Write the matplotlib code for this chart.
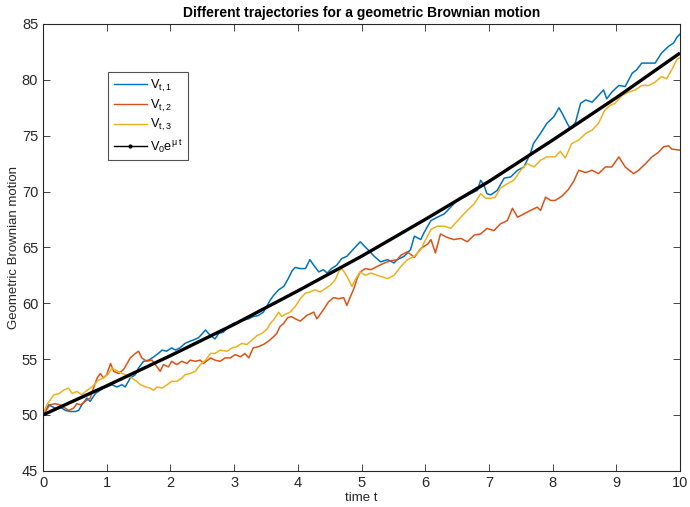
import matplotlib
matplotlib.use("Agg")
import matplotlib.pyplot as plt
from matplotlib.lines import Line2D

plt.rcParams['font.family'] = ['Liberation Sans', 'DejaVu Sans']
plt.rcParams['mathtext.fontset'] = 'custom'
plt.rcParams['mathtext.rm'] = 'Liberation Sans'
plt.rcParams['mathtext.it'] = 'Liberation Sans:italic'

# --- data ---
t1 = [0.0, 0.09, 0.19, 0.27, 0.35, 0.43, 0.51, 0.56, 0.61, 0.69, 0.74, 0.82, 0.87, 0.95, 1.0, 1.08, 1.16,
      1.24, 1.29, 1.37, 1.45, 1.5, 1.58, 1.66, 1.74, 1.81, 1.87, 1.94, 2.02, 2.08, 2.15, 2.23, 2.31, 2.36,
      2.44, 2.49, 2.55, 2.63, 2.7, 2.76, 2.83, 2.91, 2.99, 3.07, 3.15, 3.23, 3.3, 3.38, 3.46, 3.51, 3.57,
      3.62, 3.7, 3.78, 3.85, 3.91, 3.96, 4.04, 4.12, 4.19, 4.25, 4.33, 4.4, 4.46, 4.53, 4.61, 4.69, 4.77,
      4.85, 4.93, 4.98, 5.03,
      5.1, 5.2, 5.3, 5.41, 5.51, 5.56, 5.67, 5.77, 5.83, 5.93, 5.98,
      6.09, 6.19, 6.3, 6.4, 6.5, 6.61, 6.71, 6.82, 6.87, 6.92, 6.97, 7.03, 7.13, 7.24, 7.34, 7.45, 7.55,
      7.65, 7.7, 7.81, 7.91, 8.02, 8.1, 8.15, 8.23, 8.28, 8.36, 8.44, 8.52, 8.62, 8.72, 8.8, 8.85, 8.93,
      9.04, 9.14, 9.25, 9.32, 9.4, 9.5, 9.61, 9.71, 9.82, 9.9, 9.95, 10.0]
v1 = [50.0, 50.9, 50.6, 50.7, 50.4, 50.3, 50.3, 50.4, 50.9, 51.5, 51.2, 51.9, 52.1, 52.4, 52.5, 52.7, 52.5,
      52.7, 52.5, 53.3, 53.6, 54.2, 54.8, 54.9, 55.2, 55.5, 55.8, 55.7, 56.0, 55.8, 56.0, 56.4, 56.6, 56.7,
      56.9, 57.2, 57.6, 57.1, 56.8, 57.3, 57.4, 57.9, 58.2, 58.3, 58.5, 58.6, 58.8, 58.9, 59.2, 59.7, 60.3,
      60.7, 61.2, 61.5, 62.2, 62.9, 63.2, 63.1, 63.1, 63.9, 63.4, 62.8, 63.0, 62.7, 63.1, 63.4, 64.0, 64.2,
      64.7, 65.2, 65.5, 65.2,
      64.8, 64.2, 63.7, 63.9, 63.6, 63.9, 64.2, 64.8, 66.0, 65.7, 66.3,
      67.4, 67.7, 68.0, 68.6, 69.2, 69.5, 69.8, 70.1, 71.0, 70.6, 69.8, 69.7, 70.1, 71.2, 71.3, 71.9, 72.2,
      73.4, 74.3, 75.2, 76.1, 76.7, 77.5, 77.0, 76.1, 75.6, 76.2, 77.9, 78.2, 78.0, 78.6, 79.1, 78.3, 78.9,
      79.5, 79.4, 80.6, 80.9, 81.5, 81.5, 81.5, 82.4, 83.0, 83.3, 83.8, 84.1]

t2 = [0.0, 0.11, 0.19, 0.27, 0.35, 0.4, 0.48, 0.53, 0.59, 0.66, 0.74, 0.8, 0.85, 0.9, 0.95, 1.0, 1.06,
      1.11, 1.19, 1.27, 1.37, 1.45, 1.5, 1.55, 1.63, 1.71, 1.79, 1.84, 1.89, 1.97, 2.02, 2.1, 2.18, 2.26,
      2.31, 2.39, 2.47, 2.52, 2.63, 2.7, 2.78, 2.86, 2.94, 3.02, 3.1, 3.17, 3.23, 3.3, 3.38, 3.46, 3.54,
      3.62, 3.67, 3.72, 3.78, 3.84, 3.9, 3.96, 4.04, 4.14, 4.25, 4.3, 4.4, 4.48, 4.56, 4.64, 4.72, 4.77,
      4.82, 4.88, 4.93, 4.98, 5.06,
      5.15, 5.25, 5.36, 5.46, 5.56, 5.62, 5.72, 5.83, 5.93, 6.04, 6.09, 6.16, 6.24, 6.34, 6.45, 6.56,
      6.66, 6.77, 6.87, 6.97, 7.08, 7.18, 7.29, 7.37, 7.45, 7.55, 7.65, 7.76, 7.81, 7.89, 7.97, 8.04,
      8.15, 8.25, 8.33, 8.41, 8.52, 8.62, 8.72, 8.83, 8.93, 9.04, 9.14, 9.27, 9.35, 9.46, 9.56, 9.66,
      9.74, 9.82, 9.87, 10.0]
v2 = [50.0, 50.9, 51.0, 50.9, 50.6, 50.4, 50.6, 51.0, 50.9, 51.2, 51.5, 52.5, 53.3, 53.7, 53.3, 53.6, 54.6,
      53.9, 53.7, 54.1, 55.1, 55.5, 55.7, 55.1, 54.8, 54.9, 54.3, 53.9, 54.5, 54.3, 54.8, 54.5, 54.8, 54.6,
      54.9, 54.8, 54.9, 54.6, 55.1, 54.9, 54.8, 55.1, 55.1, 55.4, 55.2, 55.5, 55.1, 56.0, 56.1, 56.3, 56.6,
      57.0, 57.3, 57.9, 58.2, 58.7, 58.8, 58.6, 58.4, 58.9, 59.2, 58.6, 59.4, 60.1, 60.5, 60.4, 60.5, 59.8,
      60.5, 61.3, 62.2, 62.8, 63.1,
      63.0, 63.3, 63.6, 63.8, 63.9, 64.3, 64.6, 64.1, 64.9, 65.3, 65.7, 64.5, 66.2, 65.9, 65.7, 65.8,
      65.5, 66.1, 66.2, 66.7, 66.5, 67.1, 67.4, 68.5, 67.7, 68.0, 68.3, 68.6, 68.3, 69.5, 69.2, 69.2,
      69.6, 70.2, 70.9, 71.9, 71.7, 71.9, 71.6, 72.2, 72.2, 73.1, 72.2, 71.6, 71.9, 72.5, 73.1, 73.5,
      74.0, 74.1, 73.8, 73.7]

t3 = [0.0, 0.06, 0.17, 0.25, 0.32, 0.4, 0.46, 0.53, 0.61, 0.69, 0.77, 0.82, 0.87, 0.95, 1.03, 1.08, 1.14,
      1.21, 1.29, 1.4, 1.47, 1.53, 1.61, 1.68, 1.74, 1.79, 1.87, 1.95, 2.02, 2.1, 2.18, 2.23, 2.31, 2.39,
      2.47, 2.55, 2.63, 2.7, 2.78, 2.89, 2.97, 3.04, 3.12, 3.2, 3.28, 3.36, 3.44, 3.52, 3.57, 3.62, 3.7,
      3.75, 3.8, 3.88, 3.96, 4.04, 4.12, 4.19, 4.27, 4.35, 4.43, 4.51, 4.59, 4.64, 4.69, 4.74, 4.8, 4.85,
      4.9, 4.98, 5.06,
      5.15, 5.3, 5.41, 5.51, 5.62, 5.72, 5.83, 5.93, 6.0,
      6.09, 6.19, 6.3, 6.4, 6.48, 6.56, 6.66, 6.77, 6.87, 6.95, 7.03, 7.1, 7.18, 7.29, 7.39, 7.5, 7.6,
      7.71, 7.81, 7.91, 8.04, 8.12, 8.2, 8.3, 8.41, 8.52, 8.62, 8.72, 8.82, 8.9, 8.98, 9.09, 9.19, 9.3,
      9.4, 9.51, 9.61, 9.71, 9.79, 9.87, 9.95, 10.0]
v3 = [50.0, 50.9, 51.8, 51.9, 52.2, 52.4, 51.9, 52.1, 51.8, 52.2, 52.5, 52.8, 53.1, 53.3, 53.7, 54.2, 54.0,
      53.8, 53.6, 53.3, 53.0, 52.7, 52.5, 52.4, 52.2, 52.5, 52.4, 52.7, 53.0, 53.0, 53.3, 53.6, 53.7, 53.9,
      54.5, 54.9, 55.5, 55.5, 55.8, 55.7, 56.0, 56.1, 56.4, 56.3, 56.7, 57.1, 57.3, 57.7, 58.2, 58.5, 59.2,
      58.8, 59.0, 59.2, 59.7, 60.4, 60.9, 61.0, 61.2, 61.0, 61.3, 61.6, 62.1, 62.8, 63.1, 62.7, 62.1, 61.5,
      62.1, 62.8, 62.5,
      62.7, 62.4, 62.2, 62.5, 63.3, 63.9, 64.2, 64.8, 65.6,
      66.6, 66.9, 66.9, 66.7, 67.2, 67.7, 68.3, 68.9, 69.8, 69.4, 69.4, 69.5, 70.3, 70.7, 71.0, 71.9, 72.5,
      72.2, 72.8, 73.1, 73.1, 73.6, 73.0, 74.3, 74.6, 75.2, 75.5, 76.1, 77.3, 77.7, 77.9, 78.6, 78.9, 79.1,
      79.5, 79.5, 79.8, 80.3, 80.1, 80.9, 81.8, 82.0]

t_mean = [0, 1, 2, 3, 4, 5, 6, 7, 8, 9, 10]
v_mean = [50.0, 52.6, 55.3, 58.1, 61.1, 64.2, 67.5, 70.9, 74.6, 78.4, 82.4]

labels = ['$\\mathregular{V_{t,1}}$', '$\\mathregular{V_{t,2}}$', '$\\mathregular{V_{t,3}}$',
          '$\\mathregular{V_0e^{\\mu\\ t}}$']
xticks = list(range(0, 11))
yticks = list(range(45, 90, 5))

colors = ['#0072BD', '#D95319', '#EDB120']

fig = plt.figure(figsize=(6.9, 5.07), dpi=100)
ax = fig.add_axes([43/690, 1 - 470.7/507, (680 - 43)/690, (470.7 - 24)/507])

ax.plot(t1, v1, color=colors[0], lw=1.1)
ax.plot(t2, v2, color=colors[1], lw=1.1)
ax.plot(t3, v3, color=colors[2], lw=1.1)
ax.plot(t_mean, v_mean, color='black', lw=2.4, solid_capstyle='butt')

ax.set_xlim(0, 10)
ax.set_ylim(45, 85)
ax.set_xticks(xticks)
ax.set_yticks(yticks)
ax.tick_params(direction='in', top=True, right=True, length=5, width=0.6,
               labelsize=10.5, colors='#262626')
for s in ax.spines.values():
    s.set_linewidth(0.8)
    s.set_color('#262626')

ax.set_title('Different trajectories for a geometric Brownian motion', fontsize=10,
             fontweight='bold', pad=5)
ax.set_xlabel('time t', fontsize=9.5, color='#262626', labelpad=2)
ax.set_ylabel('Geometric Brownian motion', fontsize=9.5, color='#262626', labelpad=1)

handles = [Line2D([], [], color=colors[0], lw=1.0),
           Line2D([], [], color=colors[1], lw=1.0),
           Line2D([], [], color=colors[2], lw=1.0),
           Line2D([], [], color='black', lw=1.0, marker='.', markersize=4)]
leg = ax.legend(handles, labels, loc='upper left', bbox_to_anchor=(0.102, 0.893),
                fontsize=9.2, frameon=True, fancybox=False, edgecolor='#262626',
                handlelength=2.6, handletextpad=0.2, labelspacing=0.3, borderpad=0.45,
                borderaxespad=0)
leg.get_frame().set_linewidth(0.8)

fig.savefig('out.png', dpi=100)
